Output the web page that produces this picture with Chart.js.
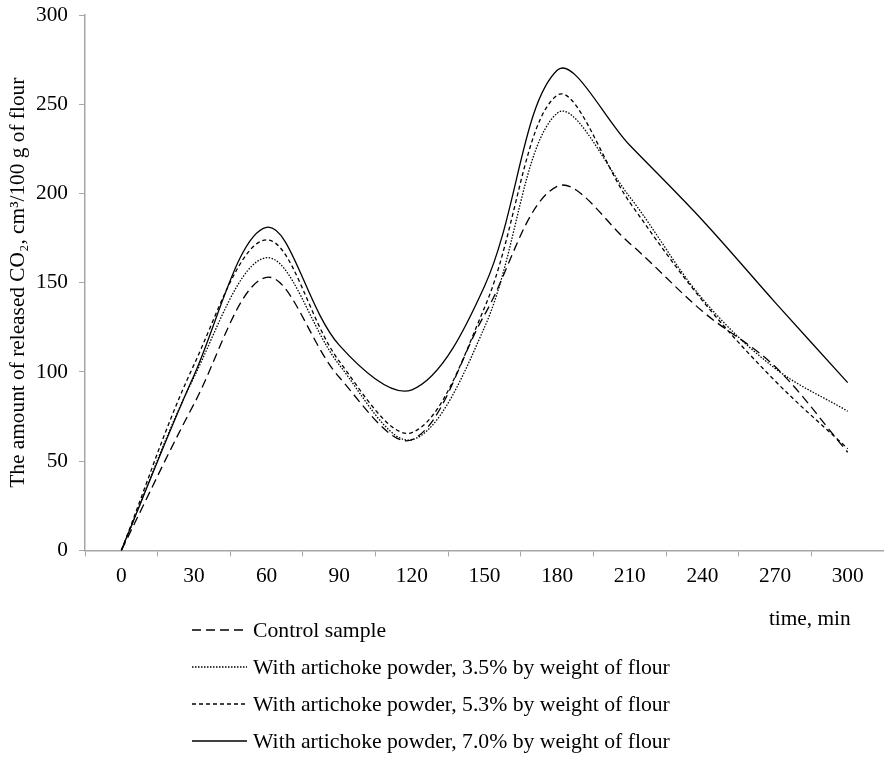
<!DOCTYPE html>
<html>
<head>
<meta charset="utf-8">
<script src="https://cdn.jsdelivr.net/npm/chart.js@4"></script>
<style>
  html, body { margin: 0; padding: 0; background: #fff; }
  #wrap { position: relative; width: 884px; height: 762px; }
</style>
</head>
<body>
<div id="wrap"><canvas id="co2Chart" width="884" height="762"></canvas></div>
<script>
// Data
const timeLabels = ['0', '30', '60', '90', '120', '150', '180', '210', '240', '270', '300'];
const controlSample = [0, 82, 153, 97, 62, 132, 204, 172, 134, 103, 55];
const artichoke35 = [0, 97, 164, 104, 62, 125, 245, 198, 141, 102, 78];
const artichoke53 = [0, 104, 174, 106, 66, 136, 255, 195, 140, 95, 57];
const artichoke70 = [0, 98, 181, 115, 90, 148, 269, 227, 185, 139, 94];
const seriesNames = [
    'Control sample',
    'With artichoke powder, 3.5% by weight of flour',
    'With artichoke powder, 5.3% by weight of flour',
    'With artichoke powder, 7.0% by weight of flour'
];

const serif = "'Liberation Serif', 'Times New Roman', serif";
const fontSize = 21.33;

function lineSet(label, data, dash) {
    return {
        label: label,
        data: data,
        borderColor: '#000',
        borderWidth: 1.3,
        borderDash: dash,
        pointRadius: 0,
        tension: 0.35,
        fill: false
    };
}

// Legend and x-axis caption drawn under the plot
const bottomText = {
    id: 'bottomText',
    afterDraw(chart) {
        const c = chart.ctx;
        const x = chart.scales.x;
        c.save();
        c.fillStyle = '#000';
        c.font = fontSize + 'px ' + serif;
        c.textBaseline = 'middle';
        c.textAlign = 'right';
        c.fillText('time, min', x.getPixelForValue(10) + 3, 619);

        c.textAlign = 'left';
        c.font = '21.7px ' + serif;
        chart.data.datasets.forEach((ds, i) => {
            const y = 630 + i * 37;
            c.beginPath();
            c.setLineDash(ds.borderDash);
            c.lineWidth = 1.3;
            c.strokeStyle = '#000';
            c.moveTo(192, y);
            c.lineTo(247, y);
            c.stroke();
            c.setLineDash([]);
            c.fillText(ds.label, 253, y + 1);
        });
        c.restore();
    }
};

const ctx = document.getElementById('co2Chart').getContext('2d');
let co2Chart = new Chart(ctx, {
    type: 'line',
    data: {
        labels: timeLabels,
        datasets: [
            lineSet(seriesNames[0], controlSample, [9, 5]),
            lineSet(seriesNames[1], artichoke35, [1.5, 1.5]),
            lineSet(seriesNames[2], artichoke53, [4, 3]),
            lineSet(seriesNames[3], artichoke70, [])
        ]
    },
    plugins: [bottomText],
    options: {
        responsive: false,
        animation: false,
        layout: { padding: { top: 0, right: 0, bottom: 166, left: 6 } },
        plugins: {
            legend: { display: false },
            tooltip: { enabled: false }
        },
        scales: {
            x: {
                offset: true,
                grid: {
                    offset: true,
                    drawOnChartArea: false,
                    drawTicks: true,
                    tickLength: 6,
                    color: '#a6a6a6'
                },
                border: { color: '#a6a6a6', width: 1.5 },
                ticks: {
                    color: '#000',
                    font: { family: serif, size: fontSize },
                    padding: 7,
                    maxRotation: 0
                }
            },
            y: {
                min: 0,
                max: 300,
                afterFit(scale) {
                    scale.width = 79;
                    scale.paddingTop = 15;
                },
                grid: {
                    drawOnChartArea: false,
                    drawTicks: true,
                    tickLength: 6,
                    color: '#a6a6a6'
                },
                border: { color: '#a6a6a6', width: 1.5 },
                ticks: {
                    stepSize: 50,
                    color: '#000',
                    font: { family: serif, size: fontSize },
                    padding: 11
                },
                title: {
                    display: true,
                    text: 'The amount of released CO\u2082, cm\u00b3/100 g of flour',
                    color: '#000',
                    font: { family: serif, size: fontSize },
                    padding: { top: 0, bottom: 0 }
                }
            }
        }
    }
});
</script>
</body>
</html>
